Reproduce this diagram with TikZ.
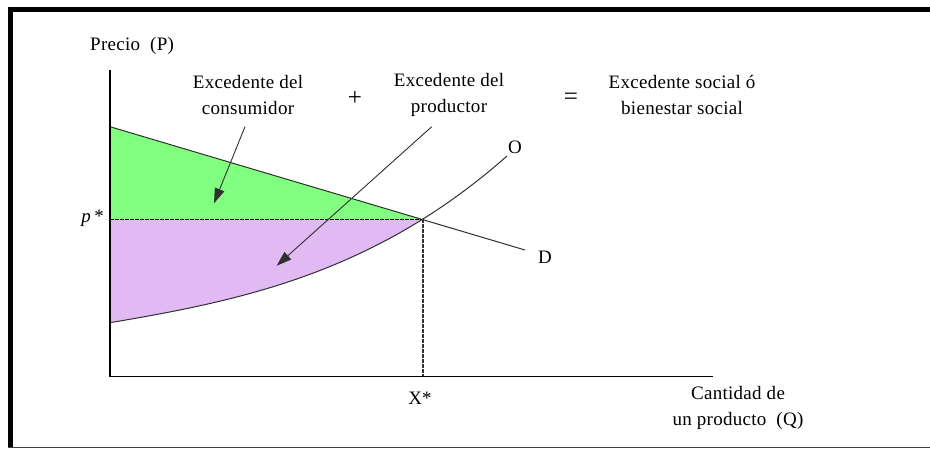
\documentclass[tikz,border=0pt]{standalone}
\usepackage{fontspec}
\setmainfont[LetterSpace=1.5]{Liberation Serif}
\usetikzlibrary{arrows.meta}
\definecolor{cgreen}{HTML}{80FF80}
\definecolor{cpurple}{HTML}{E1B9F3}
\definecolor{curvegray}{HTML}{303030}
\begin{document}
\begin{tikzpicture}[x=1pt,y=-1pt,
  lbl/.style={font=\fontsize{19}{26}\selectfont, inner sep=0pt, align=center},
  sign/.style={font=\fontsize{25}{26}\selectfont, inner sep=0pt},
  curve/.style={draw=curvegray, line width=1pt},
  axis/.style={draw=black, line width=1.3pt},
  guide/.style={draw=black, line width=1.5pt, dash pattern=on 3.5pt off 1.5pt},
  pointer/.style={draw=curvegray, line width=0.9pt, -{Triangle[length=15pt,width=10pt]}}]
\useasboundingbox (0,0) rectangle (930,448);
\fill[white] (0,0) rectangle (930,448);
% frame
\fill[black] (8,7) rectangle (930,12);
\fill[black] (8,7) rectangle (13,448);
\draw[line width=1pt, draw=black!75] (8,447) -- (930,447);
% key points
\coordinate (orig) at (110,376.5);
\coordinate (ytop) at (110,70);
\coordinate (xend) at (713,376.5);
\coordinate (dstart) at (110,126.7);
\coordinate (eq) at (422.5,219.3);
\coordinate (dend) at (525,250);
\coordinate (pstar) at (110,219.3);
\coordinate (xstar) at (422.5,376.5);
% areas
\fill[cgreen] (dstart) -- (eq) -- (pstar) -- cycle;
\fill[cpurple] (pstar) -- (eq) -- plot[domain=3.125:0, samples=40] ({110+100*\x},{322.7-16.9*\x-0.965*\x*\x-1.349*\x*\x*\x}) -- cycle;
% curves
\draw[curve] plot[domain=0:3.97, samples=60, smooth] ({110+100*\x},{322.7-16.9*\x-0.965*\x*\x-1.349*\x*\x*\x});
\draw[curve] (dstart) -- (dend);
% guides
\draw[guide] (pstar) -- (eq);
\draw[guide, line width=2pt, draw=black!80] (eq) -- (xstar);
% axes
\draw[axis] (ytop) -- (orig) -- (xend);
% labels
\node[lbl, anchor=west] (precio) at (90,46) {Precio\ \ (P)};
\node[lbl] (cons) at (248,94.5) {Excedente del\\consumidor};
\node[sign] (plus) at (355,98) {+};
\node[lbl] (prod) at (449,94.5) {Excedente del\\productor};
\node[sign] (equal) at (571,99) {=};
\node[lbl] (social) at (682,94.5) {Excedente social ó\\bienestar social};
\node[lbl] (olbl) at (515,147) {O};
\node[lbl] (dlbl) at (545,257) {D};
\node[lbl, anchor=east] (plbl) at (104,218) {\textit{p}\,*};
\node[lbl] (xlbl) at (420,398) {X*};
\node[lbl] (qlbl) at (738,408) {Cantidad de\\un producto\ \ (Q)};
% pointers
\coordinate (ca1) at (245,126.7);
\coordinate (ca2) at (214,203.3);
\coordinate (pa1) at (431.7,126.7);
\coordinate (pa2) at (276.7,265.7);
\draw[pointer] (ca1) -- (ca2);
\draw[pointer] (pa1) -- (pa2);
\end{tikzpicture}
\end{document}
